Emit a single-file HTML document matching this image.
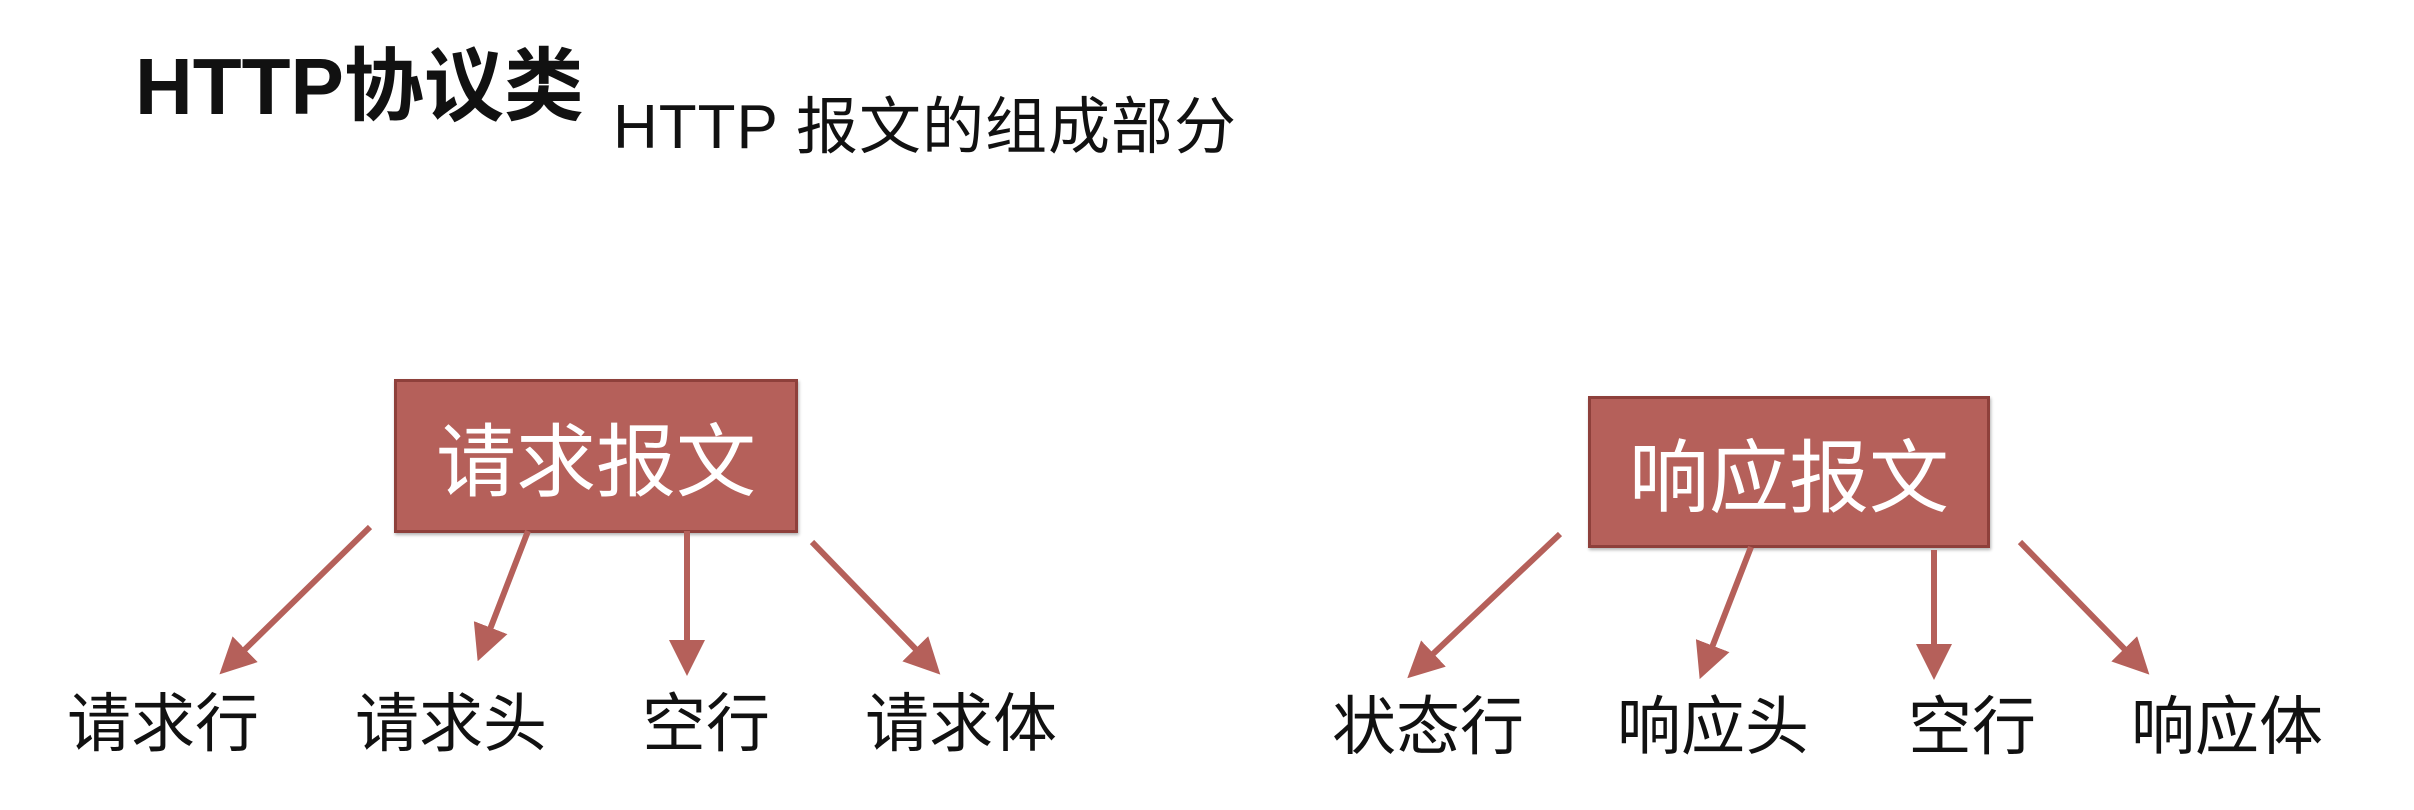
<!DOCTYPE html>
<html><head><meta charset="utf-8"><style>
html,body{margin:0;padding:0;background:#fff;}
body{width:2414px;height:810px;position:relative;overflow:hidden;}
.t{position:absolute;white-space:nowrap;font-family:"Liberation Sans","Noto Sans CJK SC",sans-serif;color:#111;}
.box{position:absolute;background:#b5605a;border:3px solid #8e403b;box-sizing:border-box;box-shadow:1px 2px 3px rgba(0,0,0,.3);color:#fff;font-family:"Liberation Sans","Noto Sans CJK SC",sans-serif;font-size:80px;display:flex;align-items:center;justify-content:center;}
.l{font-size:64px;line-height:64px;}
</style></head><body>
<div class="t" style="left:135px;top:42px;font-size:80px;font-weight:bold;line-height:90px;">HTTP协议类</div>
<div class="t" style="left:613px;top:93px;font-size:62px;line-height:70px;letter-spacing:1px;">HTTP 报文的组成部分</div>

<div class="box" style="left:394px;top:379px;width:404px;height:154px;">请求报文</div>
<div class="box" style="left:1588px;top:396px;width:402px;height:152px;">响应报文</div>

<svg width="2414" height="810" style="position:absolute;left:0;top:0">
<defs><marker id="a" markerWidth="6" markerHeight="6" refX="4" refY="3" orient="auto" markerUnits="strokeWidth"><path d="M0,0 L6,3 L0,6 z" fill="#b5605a"/></marker></defs>
<g stroke="#b5605a" stroke-width="6" marker-end="url(#a)">
<line x1="370" y1="527" x2="228" y2="666"/>
<line x1="528" y1="531" x2="482" y2="650"/>
<line x1="687" y1="531" x2="687" y2="664"/>
<line x1="812" y1="542" x2="932" y2="666"/>
<line x1="1560" y1="534" x2="1416" y2="670"/>
<line x1="1751" y1="547" x2="1704" y2="668"/>
<line x1="1934" y1="550" x2="1934" y2="668"/>
<line x1="2020" y1="542" x2="2141" y2="666"/>
</g></svg>

<div class="t l" style="left:67px;top:692px;">请求行</div>
<div class="t l" style="left:355px;top:692px;">请求头</div>
<div class="t l" style="left:642px;top:692px;">空行</div>
<div class="t l" style="left:865px;top:692px;">请求体</div>
<div class="t l" style="left:1332px;top:695px;">状态行</div>
<div class="t l" style="left:1617px;top:695px;">响应头</div>
<div class="t l" style="left:1908px;top:695px;">空行</div>
<div class="t l" style="left:2131px;top:695px;">响应体</div>
</body></html>
